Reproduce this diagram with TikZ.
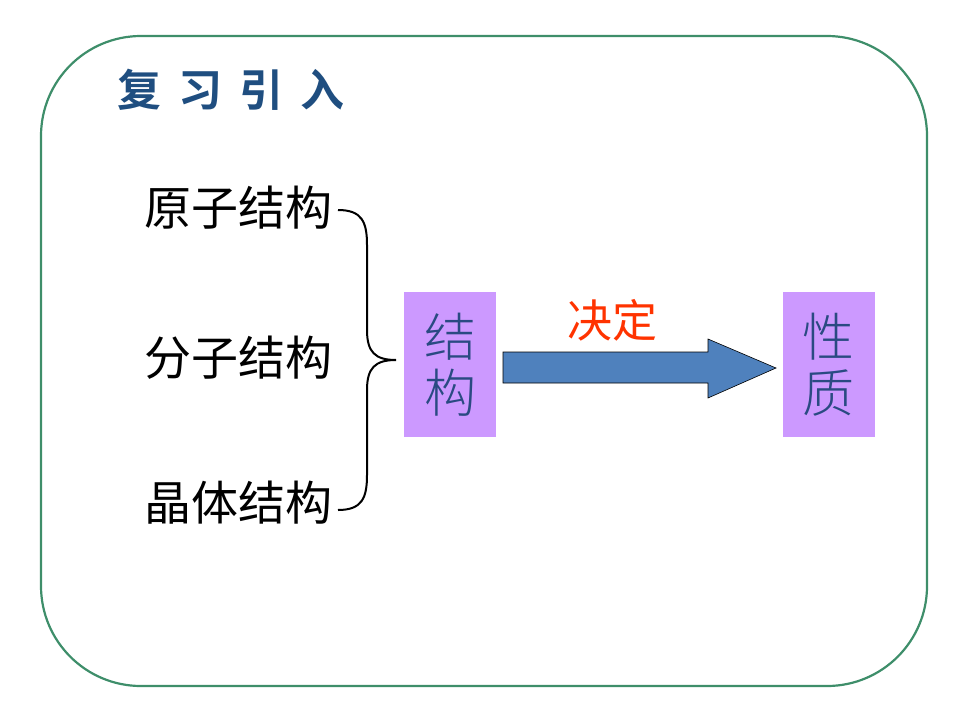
\documentclass[tikz,border=0pt]{standalone}
\usepackage{fontspec}
\newfontfamily\cjk{Noto Sans CJK SC}
\newfontfamily\cjklight{Noto Sans CJK SC Light}
\newfontfamily\cjkbold{Noto Sans CJK SC Bold}
\definecolor{framegreen}{HTML}{3E8E6A}
\definecolor{titleblue}{HTML}{1F4E80}
\definecolor{boxviolet}{HTML}{CC99FF}
\definecolor{boxtext}{HTML}{2A4A82}
\definecolor{arrowblue}{HTML}{4F81BD}
\definecolor{redtext}{HTML}{FF3300}
\tikzset{
  lefttext/.style={inner sep=0pt, anchor=west, font=\cjk\fontsize{47}{50}\selectfont},
  vbox/.style={fill=boxviolet, minimum width=92pt, minimum height=145pt, inner sep=0pt},
  vtext/.style={align=center, text=boxtext, font=\cjklight\fontsize{52}{56}\selectfont},
  bracestyle/.style={line width=2pt, black}
}
\begin{document}
\begin{tikzpicture}[x=1pt,y=-1pt]
\useasboundingbox (0,0) rectangle (960,720);
\draw[framegreen, line width=2.2pt, rounded corners=100pt] (41,36) rectangle (927,686);
\node[inner sep=0pt, anchor=west, text=titleblue, font=\cjkbold\fontsize{44}{46}\selectfont] (title) at (117,90) {复\hspace{17pt}习\hspace{17pt}引\hspace{17pt}入};
\node[lefttext] (t1) at (144,208) {原子结构};
\node[lefttext] (t2) at (144,358) {分子结构};
\node[lefttext] (t3) at (144,503) {晶体结构};
\coordinate (b1) at (338,210);
\coordinate (bm) at (396,360);
\coordinate (b3) at (338,510);
\draw[bracestyle] (b1) .. controls (362,210) and (367,222) .. (367,245)
  -- (367,330) .. controls (367,352) and (375,360) .. (bm)
  .. controls (375,360) and (367,368) .. (367,390)
  -- (367,475) .. controls (367,498) and (362,510) .. (b3);
\node[vbox] (s) at (450,364.5) {};
\node[vtext] at (s) {结\\构};
\node[vbox] (p) at (828.5,364.5) {};
\node[vtext] at (p) {性\\质};
\draw[fill=arrowblue, line width=0.6pt] (503,352) -- (708,352) -- (708,339) -- (776,368) -- (708,398) -- (708,383) -- (503,383) -- cycle;
\node[text=redtext, font=\cjk\fontsize{45}{48}\selectfont, inner sep=0pt] (d) at (612,320) {决定};
\end{tikzpicture}
\end{document}
